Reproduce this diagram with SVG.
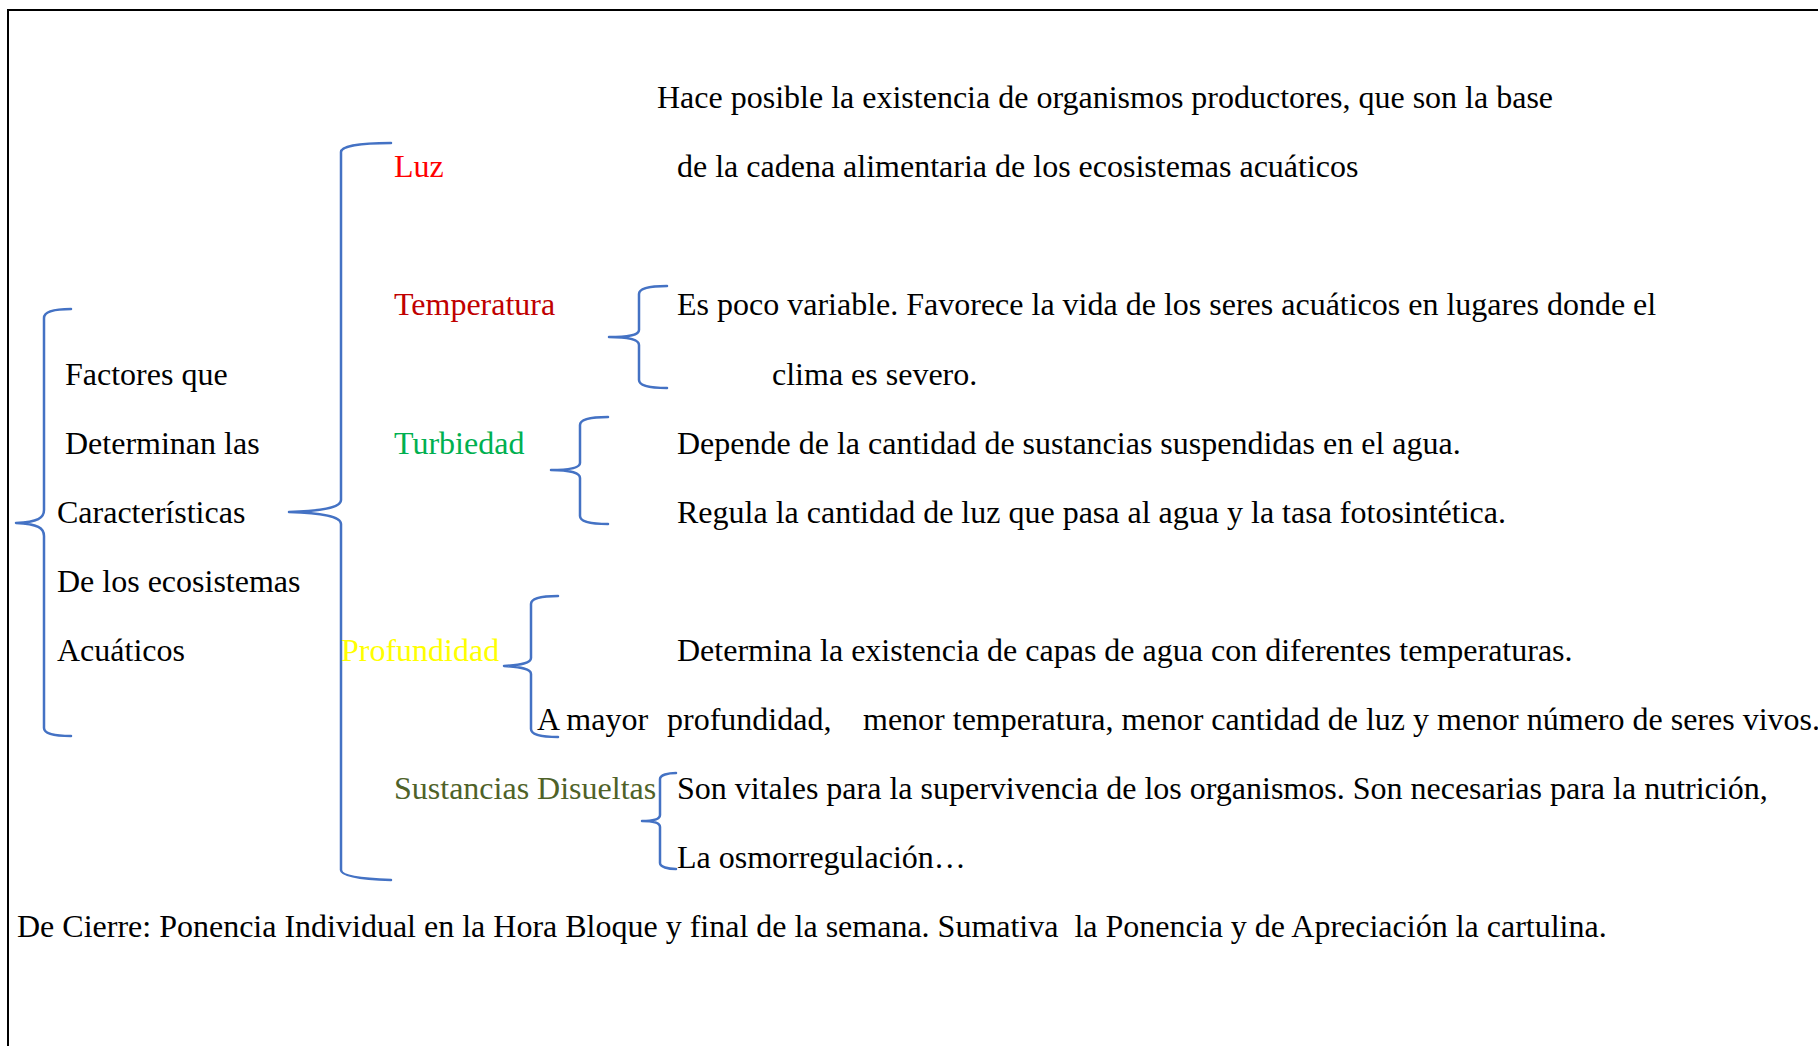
<svg xmlns="http://www.w3.org/2000/svg" width="1818" height="1046" viewBox="0 0 1818 1046">
<style>
text { font-family: "Liberation Serif", "Times New Roman", serif; font-size: 32px; fill: #000; }
.brace { fill: none; stroke: #4472C4; stroke-width: 2.5; stroke-linecap: round; stroke-linejoin: round; }
.frame { fill: none; stroke: #000; stroke-width: 2; }
</style>
<rect width="1818" height="1046" fill="#fff"/>
<path class="frame" d="M8,1046 L8,10 L1818,10"/>

<g id="connectors">
<path class="brace" d="M71,309 C55,309 44,311 44,318 L44,510 C44,518 38,522 16,523 C38,524 44,528 44,536 L44,728 C44,734 55,736 71,736"/>
<path class="brace" d="M391,143 C360,143 341,146 341,152 L341,500 C341,508 320,511 289,512 C320,513 341,516 341,524 L341,870 C341,876 360,879 391,880"/>
<path class="brace" d="M667,286 C650,286 639,288 639,294 L639,330 C639,335 630,337 609,337 C630,337 639,340 639,345 L639,380 C639,386 650,388 667,388"/>
<path class="brace" d="M608,417 C592,417 580,419 580,425 L580,463 C580,468 570,470 551,470 C570,470 580,473 580,478 L580,516 C580,522 592,524 608,524"/>
<path class="brace" d="M558,596 C542,596 531,598 531,604 L531,658 C531,663 521,665 504,666 C521,667 531,669 531,674 L531,729 C531,735 542,737 558,737"/>
<path class="brace" d="M676,773 C668,773 660,775 660,779 L660,815 C660,819 654,821 642,821 C654,821 660,823 660,827 L660,863 C660,867 668,869 676,869"/>
</g>

<g id="root">
<text x="65" y="385">Factores que</text>
<text x="65" y="454">Determinan las</text>
<text x="57" y="523">Características</text>
<text x="57" y="592">De los ecosistemas</text>
<text x="57" y="661">Acuáticos</text>
</g>

<g id="luz">
<text x="394" y="177" fill="#FF0000" style="fill:#FF0000">Luz</text>
</g>
<g id="luz-desc">
<text x="657" y="108">Hace posible la existencia de organismos productores, que son la base</text>
<text x="677" y="177">de la cadena alimentaria de los ecosistemas acuáticos</text>
</g>

<g id="temperatura">
<text x="394" y="315" style="fill:#C00000">Temperatura</text>
</g>
<g id="temperatura-desc">
<text x="677" y="315">Es poco variable. Favorece la vida de los seres acuáticos en lugares donde el</text>
<text x="772" y="385">clima es severo.</text>
</g>

<g id="turbiedad">
<text x="394" y="454" style="fill:#00B050">Turbiedad</text>
</g>
<g id="turbiedad-desc">
<text x="677" y="454">Depende de la cantidad de sustancias suspendidas en el agua.</text>
<text x="677" y="523">Regula la cantidad de luz que pasa al agua y la tasa fotosintética.</text>
</g>

<g id="profundidad">
<text x="341" y="661" style="fill:#FFFF00">Profundidad</text>
</g>
<g id="profundidad-desc">
<text x="677" y="661">Determina la existencia de capas de agua con diferentes temperaturas.</text>
<text y="730"><tspan x="537">A mayor</tspan><tspan x="667">profundidad,</tspan><tspan x="863">menor temperatura, menor cantidad de luz y menor número de seres vivos.</tspan></text>
</g>

<g id="sustancias">
<text x="394" y="799" style="fill:#4F6228">Sustancias Disueltas</text>
</g>
<g id="sustancias-desc">
<text x="677" y="799">Son vitales para la supervivencia de los organismos. Son necesarias para la nutrición,</text>
<text x="677" y="868">La osmorregulación…</text>
</g>

<g id="cierre">
<text x="17" y="937" xml:space="preserve">De Cierre: Ponencia Individual en la Hora Bloque y final de la semana. Sumativa  la Ponencia y de Apreciación la cartulina.</text>
</g>
</svg>
